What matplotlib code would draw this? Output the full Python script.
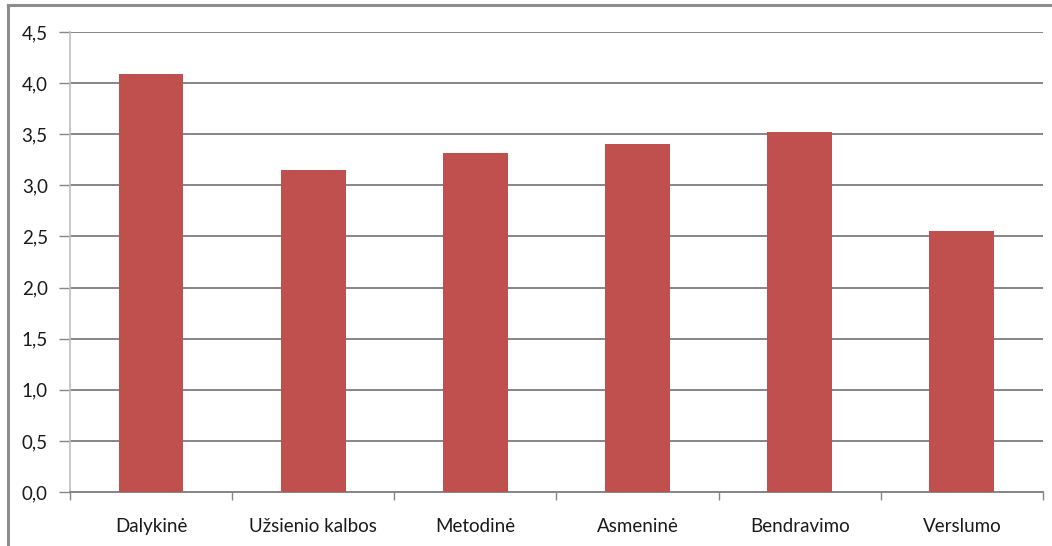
import matplotlib
matplotlib.use("Agg")
import matplotlib.pyplot as plt
from matplotlib.lines import Line2D
import numpy as np

categories = ["Dalykinė", "Užsienio kalbos", "Metodinė", "Asmeninė", "Bendravimo", "Verslumo"]
values = [4.09, 3.15, 3.32, 3.40, 3.52, 2.55]
y_ticks = [0.0, 0.5, 1.0, 1.5, 2.0, 2.5, 3.0, 3.5, 4.0, 4.5]
y_tick_labels = ["0,0", "0,5", "1,0", "1,5", "2,0", "2,5", "3,0", "3,5", "4,0", "4,5"]

plt.rcParams["font.family"] = ["Lato", "DejaVu Sans"]

fig = plt.figure(figsize=(10.52, 5.46), dpi=100)
ax = fig.add_axes([0.0665, 0.0989, 0.9249, 0.8425])

x = np.arange(len(categories))
ax.bar(x, values, width=0.4, color="#C0504D", zorder=3)

ax.set_xlim(-0.5, len(categories) - 0.5)
ax.set_ylim(0, 4.5)

# horizontal gridlines
ax.set_yticks(y_ticks)
ax.set_yticklabels(y_tick_labels, fontsize=13.5, color="#1a1a1a")
ax.yaxis.grid(True, color="#868686", linewidth=1.4, zorder=0)
ax.set_axisbelow(True)

# category labels centered, tick marks at category boundaries
ax.set_xticks(x)
ax.set_xticklabels(categories, fontsize=13.5, color="#1a1a1a")
ax.tick_params(axis="x", length=0, pad=19)
ax.set_xticks(np.arange(-0.5, len(categories)), minor=True)
ax.tick_params(axis="x", which="minor", length=6, width=1, color="#868686", direction="out")
ax.tick_params(axis="y", length=8, width=1, color="#868686", pad=8)

for side in ["top", "right"]:
    ax.spines[side].set_visible(False)
ax.spines["left"].set_color("#BFBFBF")
ax.spines["left"].set_linewidth(1.2)
ax.spines["bottom"].set_color("#868686")
ax.spines["bottom"].set_linewidth(1.4)

# outer chart frame
fig.add_artist(Line2D([0.008, 1.0], [0.990, 0.990], transform=fig.transFigure,
                      color="#8C8C8C", linewidth=2.2))
fig.add_artist(Line2D([0.008, 0.008], [0.0, 0.990], transform=fig.transFigure,
                      color="#8C8C8C", linewidth=2.2))

fig.savefig("out.png", dpi=100)
